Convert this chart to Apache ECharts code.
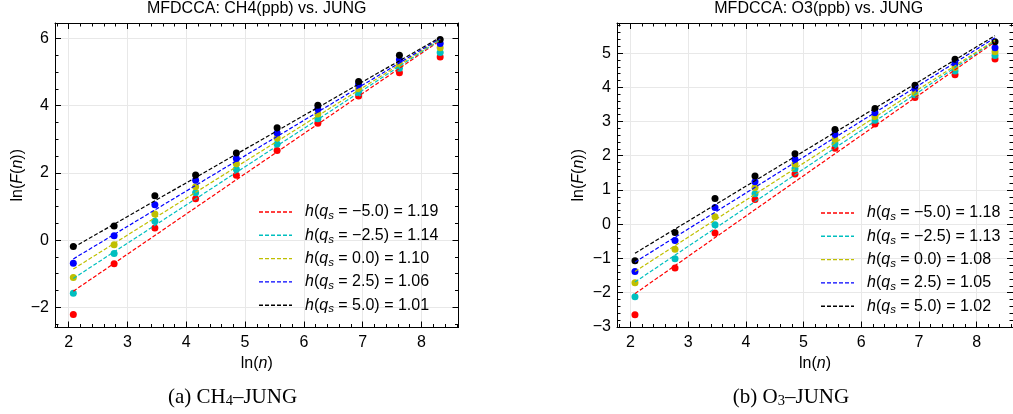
<!DOCTYPE html>
<html><head><meta charset="utf-8">
<script src="https://cdn.jsdelivr.net/npm/echarts@6/dist/echarts.min.js"></script>
<style>html,body{margin:0;padding:0;background:#fff}#c{width:1013px;height:414px}</style>
</head><body><div id="c"></div>
<script>
// ---- data ----
const lnN = [2.079, 2.773, 3.466, 4.159, 4.852, 5.545, 6.238, 6.931, 7.625, 8.318];
const qValues = ['−5.0', '−2.5', '0.0', '2.5', '5.0'];
const hA = ['1.19', '1.14', '1.10', '1.06', '1.01'];
const hB = ['1.18', '1.13', '1.08', '1.05', '1.02'];
// panel (a) CH4-JUNG, ln(F(n)) per q
const aRed    = [-2.21, -0.70, 0.36, 1.23, 1.93, 2.67, 3.48, 4.29, 4.98, 5.45];
const aCyan   = [-1.58, -0.40, 0.56, 1.41, 2.11, 2.86, 3.61, 4.38, 5.11, 5.58];
const aYellow = [-1.11, -0.14, 0.78, 1.59, 2.27, 3.04, 3.75, 4.50, 5.24, 5.72];
const aBlue   = [-0.69, 0.13, 1.05, 1.78, 2.43, 3.19, 3.90, 4.63, 5.37, 5.85];
const aBlack  = [-0.19, 0.42, 1.32, 1.94, 2.59, 3.34, 4.01, 4.72, 5.50, 5.97];
const aFitStart = [-1.52, -1.14, -0.86, -0.56, -0.22];
const aFitEnd   = [5.94, 5.96, 5.98, 6.00, 6.03];
// panel (b) O3-JUNG
const bRed    = [-2.65, -1.28, -0.26, 0.72, 1.47, 2.22, 2.93, 3.70, 4.37, 4.83];
const bCyan   = [-2.12, -1.01, -0.02, 0.89, 1.62, 2.35, 3.04, 3.78, 4.48, 4.93];
const bYellow = [-1.71, -0.73, 0.22, 1.07, 1.76, 2.48, 3.14, 3.85, 4.58, 5.04];
const bBlue   = [-1.38, -0.48, 0.49, 1.24, 1.90, 2.63, 3.26, 3.96, 4.70, 5.16];
const bBlack  = [-1.07, -0.24, 0.75, 1.41, 2.06, 2.77, 3.38, 4.06, 4.82, 5.33];
const bFitStart = [-2.03, -1.69, -1.38, -1.11, -0.85];
const bFitEnd   = [5.33, 5.36, 5.38, 5.45, 5.51];
// tick labels
const xTicks = [2, 3, 4, 5, 6, 7, 8];
const yTicksA = [-2, 0, 2, 4, 6];
const yTicksB = [-3, -2, -1, 0, 1, 2, 3, 4, 5];
const titles = ['MFDCCA: CH4(ppb) vs. JUNG', 'MFDCCA: O3(ppb) vs. JUNG'];
const captions = [['(a) CH', '4', '–JUNG'], ['(b) O', '3', '–JUNG']];

// ---- styling / layout ----
const colors = ['#ff0000', '#00bfbf', '#bfbf00', '#0000ff', '#000000'];
const FONT = 'Liberation Sans';
const panels = [
  {left: 55, ser: [aRed, aCyan, aYellow, aBlue, aBlack], fs: aFitStart, fe: aFitEnd, h: hA,
   ymin: -2.6, ymax: 6.46, yt: yTicksA, ystep: 0.5, capX: 232.5},
  {left: 617, ser: [bRed, bCyan, bYellow, bBlue, bBlack], fs: bFitStart, fe: bFitEnd, h: hB,
   ymin: -3.02, ymax: 5.88, yt: yTicksB, ystep: 0.2, capX: 791}
];
const GW = 403.5, GT = 23, GH = 304.5, XMIN = 1.7675, XMAX = 8.6297;

function minorVals(lo, hi, step, majors) {
  const out = [];
  const n0 = Math.ceil(lo / step - 1e-9), n1 = Math.floor(hi / step + 1e-9);
  for (let k = n0; k <= n1; k++) {
    const v = +(k * step).toFixed(4);
    if (!majors.some(m => Math.abs(m - v) < 1e-6)) out.push(v);
  }
  return out;
}
const fmt = v => String(v).replace('-', '−');
const rich = {
  n: {fontFamily: FONT, fontSize: 16, color: '#000'},
  i: {fontFamily: FONT, fontSize: 16, fontStyle: 'italic', color: '#000'},
  s: {fontFamily: FONT, fontSize: 11.5, fontStyle: 'italic', color: '#000', padding: [8, 0, 0, 0]},
  sp: {width: 8}
};
// dashed legend sample, 33 x 14 box
const dashIcon = 'path://M0,-7L0,-7M0,7L0,7M0,-0.7h4v1.4h-4zM6,-0.7h4v1.4h-4zM12,-0.7h4v1.4h-4zM18,-0.7h4v1.4h-4zM24,-0.7h4v1.4h-4zM30,-0.7h3v1.4h-3z';

const grid = [], xAxis = [], yAxis = [], series = [], legend = [], title = [];
panels.forEach((p, pi) => {
  grid.push({left: p.left, top: GT, width: GW, height: GH});
  const xMinor = minorVals(XMIN, XMAX, 0.2, xTicks);
  const yMinor = minorVals(p.ymin, p.ymax, p.ystep, p.yt);
  const axBase = {type: 'value', gridIndex: pi, min: XMIN, max: XMAX, splitArea: {show: false}};
  const line = {show: true, onZero: false, lineStyle: {color: '#000', width: 1}};
  xAxis.push(Object.assign({}, axBase, {position: 'bottom', axisLine: line,
    axisTick: {inside: true, length: 6, customValues: xTicks, lineStyle: {color: '#000'}},
    axisLabel: {customValues: xTicks, margin: 7, formatter: fmt, fontFamily: FONT, fontSize: 16, color: '#000'},
    splitLine: {show: true, lineStyle: {color: '#e8e8e8', width: 1}},
    name: '{n|ln(}{i|n}{n|)}', nameLocation: 'middle', nameGap: 26, nameTextStyle: {rich}}));
  xAxis.push(Object.assign({}, axBase, {position: 'bottom', axisLine: {show: false, onZero: false},
    axisTick: {inside: true, length: 3.5, customValues: xMinor, lineStyle: {color: '#000'}},
    axisLabel: {show: false}, splitLine: {show: false}}));
  xAxis.push(Object.assign({}, axBase, {position: 'top', axisLine: line,
    axisTick: {inside: true, length: 6, customValues: xTicks, lineStyle: {color: '#000'}},
    axisLabel: {show: false}, splitLine: {show: false}}));
  xAxis.push(Object.assign({}, axBase, {position: 'top', axisLine: {show: false, onZero: false},
    axisTick: {inside: true, length: 3.5, customValues: xMinor, lineStyle: {color: '#000'}},
    axisLabel: {show: false}, splitLine: {show: false}}));
  const ayBase = {type: 'value', gridIndex: pi, min: p.ymin, max: p.ymax, splitArea: {show: false}};
  yAxis.push(Object.assign({}, ayBase, {position: 'left', axisLine: line,
    axisTick: {inside: true, length: 6, customValues: p.yt, lineStyle: {color: '#000'}},
    axisLabel: {customValues: p.yt, margin: 6, formatter: fmt, fontFamily: FONT, fontSize: 16, color: '#000'},
    splitLine: {show: true, lineStyle: {color: '#e8e8e8', width: 1}},
    name: '{n|ln(}{i|F}{n|(}{i|n}{n|))}', nameLocation: 'middle', nameRotate: 90,
    nameGap: pi === 0 ? 29 : 30, nameTextStyle: {rich}}));
  yAxis.push(Object.assign({}, ayBase, {position: 'left', axisLine: {show: false, onZero: false},
    axisTick: {inside: true, length: 3.5, customValues: yMinor, lineStyle: {color: '#000'}},
    axisLabel: {show: false}, splitLine: {show: false}}));
  yAxis.push(Object.assign({}, ayBase, {position: 'right', axisLine: line,
    axisTick: {inside: true, length: 6, customValues: p.yt, lineStyle: {color: '#000'}},
    axisLabel: {show: false}, splitLine: {show: false}}));
  yAxis.push(Object.assign({}, ayBase, {position: 'right', axisLine: {show: false, onZero: false},
    axisTick: {inside: true, length: 3.5, customValues: yMinor, lineStyle: {color: '#000'}},
    axisLabel: {show: false}, splitLine: {show: false}}));

  const legendData = [];
  p.ser.forEach((vals, qi) => {
    const nm = 'P' + pi + '|' + qValues[qi] + '|' + p.h[qi];
    legendData.push({name: nm, icon: dashIcon, itemStyle: {color: colors[qi], opacity: 1}});
    series.push({type: 'scatter', name: 'pts' + pi + '_' + qi, xAxisIndex: pi * 4, yAxisIndex: pi * 4,
      data: lnN.map((x, i) => [x, vals[i]]), symbolSize: 7,
      itemStyle: {color: colors[qi], opacity: 1}, z: 3});
    series.push({type: 'line', name: nm, xAxisIndex: pi * 4, yAxisIndex: pi * 4,
      data: [[lnN[0], p.fs[qi]], [lnN[lnN.length - 1], p.fe[qi]]],
      symbol: 'none', color: colors[qi],
      lineStyle: {type: [4, 2], width: 1.2, color: colors[qi]}, z: 4});
  });
  legend.push({data: legendData, orient: 'vertical', left: pi === 0 ? 259 : 821, top: pi === 0 ? 202 : 203,
    padding: 0, itemWidth: 33, itemHeight: 14, itemGap: 3.3, selectedMode: false,
    lineStyle: {width: 0, opacity: 0},
    textStyle: {fontSize: 16, lineHeight: 20, rich},
    formatter: nm => {
      const parts = nm.split('|');
      return '{sp|}{i|h}{n|(}{i|q}{s|s}{n| = ' + parts[1] + ') = ' + parts[2] + '}';
    }});
  const cx = p.left + GW / 2;
  title.push({text: titles[pi], left: cx, textAlign: 'center', top: 1, padding: 0,
    textStyle: {fontFamily: FONT, fontSize: 16, fontWeight: 'normal', color: '#000'}});
  title.push({text: '{c|' + captions[pi][0] + '}{b|' + captions[pi][1] + '}{c|' + captions[pi][2] + '}',
    left: p.capX, textAlign: 'center', top: 385, padding: 0,
    textStyle: {fontWeight: 'normal', rich: {
      c: {fontFamily: 'Liberation Serif', fontSize: 21, fontWeight: 'normal', color: '#000'},
      b: {fontFamily: 'Liberation Serif', fontSize: 14.5, fontWeight: 'normal', color: '#000', padding: [9, 0, 0, 0]}
    }}});
});

const chart = echarts.init(document.getElementById('c'), null, {renderer: 'canvas'});
chart.setOption({animation: false, backgroundColor: '#fff', grid, xAxis, yAxis, series, legend, title});
</script>
</body></html>
